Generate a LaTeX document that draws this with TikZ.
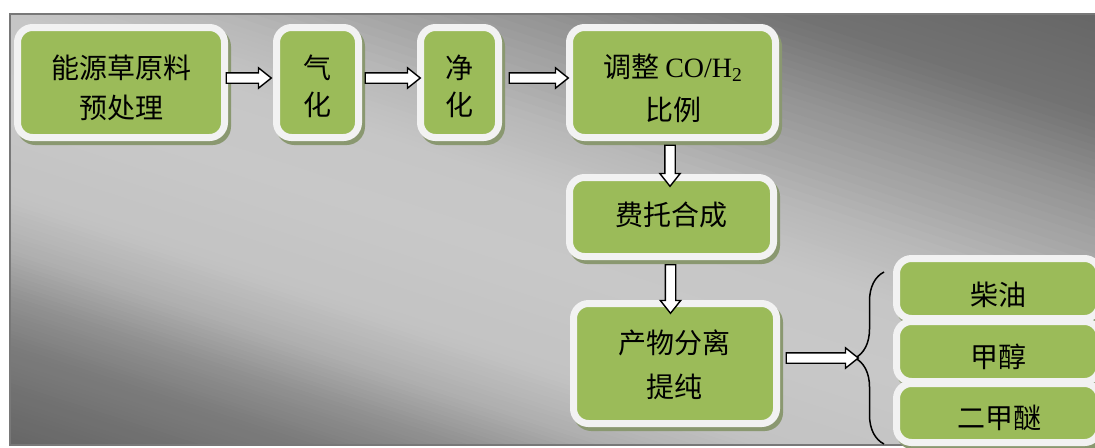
\documentclass[tikz,border=0pt]{standalone}
\usepackage{fontspec}
\setmainfont{Liberation Serif}
\newfontfamily\cjk{Noto Sans CJK SC}
\usetikzlibrary{calc,shapes.arrows,decorations.pathreplacing}
\definecolor{boxgreen}{RGB}{155,187,89}
\definecolor{boxrim}{RGB}{242,242,242}
\definecolor{boxshadow}{RGB}{138,152,112}
\definecolor{frameline}{RGB}{120,120,120}
\definecolor{gA}{RGB}{102,102,102}
\tikzset{
  stagebox/.style={rectangle, draw=boxrim, line width=3.5pt, fill=boxgreen,
    rounded corners=7.5pt, inner sep=0pt, outer sep=0pt,
    preaction={draw=boxshadow, fill=boxshadow, transform canvas={xshift=1.5pt,yshift=-2pt}}},
  stagetext/.style={font=\cjk\fontsize{14pt}{#1}\selectfont, align=center, inner sep=0pt, text=black},
  stagetext/.default=20pt,
  barrow/.style={single arrow, draw=black, fill=white, line width=0.7pt,
    inner sep=0pt, outer sep=0pt, text height=4.5pt, text depth=0pt,
    single arrow head extend=2.5pt, single arrow tip angle=77},
  bracestyle/.style={decorate, decoration={brace, amplitude=14.5pt}, line width=0.75pt, draw=black}
}
\newcommand\blockarrow[3]{\path let \p1=#1, \p2=#2, \n1={veclen(\x2-\x1,\y2-\y1)} in (\p1) -- (\p2) node[barrow, midway, sloped, allow upside down, minimum height=\n1] (#3) {};}
\begin{document}
\begin{tikzpicture}[x=0.5pt,y=-0.5pt]
\useasboundingbox (0,0) rectangle (1095,447);
\clip (0,0) rectangle (1095,447);
% background panel: diagonal grey gradient built from thin strips
\begin{scope}
\clip (10,14) rectangle (1096,445);
\fill[gA] (10,14) rectangle (1096,445);
\begin{scope}[shift={(553,229.5)}, rotate=-18]
\foreach \ta/\ga/\tb/\gb in {0/102/0.064/112, 0.064/112/0.128/124, 0.128/124/0.186/144, 0.186/144/0.25/175, 0.25/175/0.32/195, 0.32/195/0.45/200, 0.45/200/0.55/198, 0.55/198/0.63/184, 0.63/184/0.76/150, 0.76/150/0.87/115, 0.87/115/1/102}{
  \foreach \k in {0,...,11}{
    \pgfmathsetmacro\pc{100*(1-(\ga+(\gb-\ga)*(\k+0.5)/12)/255)}
    \pgfmathsetmacro\va{372.6-745.2*(\ta+(\tb-\ta)*\k/12)+0.6}
    \pgfmathsetmacro\vb{372.6-745.2*(\ta+(\tb-\ta)*(\k+1)/12)-0.6}
    \fill[black!\pc] (-700,\va) rectangle (700,\vb);
  }
}
\end{scope}
\end{scope}
\draw[frameline, line width=1pt] (1100,14) -- (10,14) -- (10,444.5) -- (1100,444.5);
% process boxes
\node[stagebox, minimum width=103.5pt, minimum height=55pt] (b1) at (121,82.5) {};
\node[stagebox, minimum width=41pt, minimum height=55pt] (b2) at (317.5,82.5) {};
\node[stagebox, minimum width=39pt, minimum height=55pt] (b3) at (459.5,82.5) {};
\node[stagebox, minimum width=103pt, minimum height=55pt] (b4) at (672.5,82.5) {};
\node[stagebox, minimum width=102pt, minimum height=39.5pt] (b5) at (671.5,217) {};
\node[stagebox, minimum width=101.5pt, minimum height=60pt] (b6) at (675,363.5) {};
\node[stagebox, minimum width=101.5pt, minimum height=30pt] (r1) at (998,288.5) {};
\node[stagebox, minimum width=101.5pt, minimum height=30pt] (r2) at (998,351.5) {};
\node[stagebox, minimum width=101.5pt, minimum height=29.5pt] (r3) at (998,413) {};
% texts
\node[stagetext] (t1) at (121,88) {能源草原料\\预处理};
\node[stagetext=18.5pt] (t2) at (317.5,86.5) {气\\化};
\node[stagetext=18.5pt] (t3) at (459.5,86.5) {净\\化};
\node[stagetext=21.5pt] (t4) at (673,88.5) {调整 {\rmfamily CO/H\textsubscript{2}}\\比例};
\node[stagetext] (t5) at (671,215) {费托合成};
\node[stagetext=22pt] (t6) at (674,365) {产物分离\\提纯};
\node[stagetext] (t7) at (998.5,295) {柴油};
\node[stagetext] (t8) at (998.5,357) {甲醇};
\node[stagetext] (t9) at (999,418) {二甲醚};
% brace
\coordinate (brtop) at (884,272);
\coordinate (brbot) at (884,444);
\coordinate (brtip) at (855,358);
\draw[bracestyle] (brbot) -- (brtop);
% arrows
\blockarrow{([shift={(-1.5,-4.5)}]b1.east)}{([shift={(-8.5,-4.5)}]b2.west)}{a1}
\blockarrow{([shift={(3.5,-4.5)}]b2.east)}{([shift={(-3.5,-4.5)}]b3.west)}{a2}
\blockarrow{([shift={(7.5,-4.5)}]b3.east)}{([shift={(-4.5,-4.5)}]b4.west)}{a3}
\blockarrow{([shift={(-2.5,4.5)}]b4.south)}{([shift={(-1.5,5.5)}]b5.north)}{a4}
\blockarrow{([shift={(-1,5)}]b5.south)}{([shift={(-4.5,6.5)}]b6.north)}{a5}
\blockarrow{([shift={(6.5,-5.5)}]b6.east)}{(brtip)}{a6}
\end{tikzpicture}
\end{document}
